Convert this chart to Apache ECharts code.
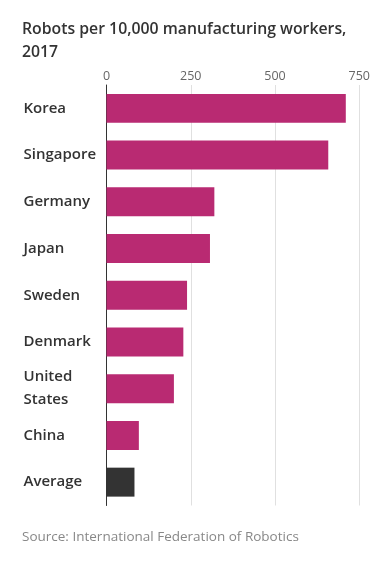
<!DOCTYPE html>
<html><head><meta charset="utf-8">
<script src="https://cdn.jsdelivr.net/npm/echarts@6/dist/echarts.min.js"></script>
<style>html,body{margin:0;padding:0;background:#fff}#c{width:373px;height:569px}</style>
</head><body><div id="c"></div>
<script>
const categories = ['Korea','Singapore','Germany','Japan','Sweden','Denmark','United\nStates','China','Average'];
const values = [710, 658, 320, 307, 239, 228, 200, 96, 83];
const tickValues = [0, 250, 500, 750];
const titleText = 'Robots per 10,000 manufacturing workers,\n2017';
const sourceText = 'Source: International Federation of Robotics';

const chart = echarts.init(document.getElementById('c'), null, {renderer:'canvas'});
const FONT = '"Open Sans", sans-serif';
chart.setOption({
  animation: false,
  backgroundColor: '#fff',
  title: [{
    text: titleText, left: 22, top: 18, padding: 0,
    textStyle: {fontFamily: FONT, fontSize: 15.8, fontWeight: 600, color: '#333', lineHeight: 23}
  }, {
    text: sourceText, left: 22, top: 530, padding: 0,
    textStyle: {fontFamily: FONT, fontSize: 13.5, fontWeight: 'normal', color: '#888'}
  }],
  grid: {left: 106.5, right: 12.7, top: 85, bottom: 63.5, containLabel: false},
  xAxis: {
    type: 'value', position: 'top', min: 0, max: 750, interval: 250,
    axisLine: {show: false}, axisTick: {show: false},
    splitLine: {lineStyle: {color: '#e0e0e0', width: 1}},
    axisLabel: {fontFamily: FONT, fontSize: 12.5, color: '#666', margin: 2,
      formatter: v => tickValues.includes(v) ? String(v) : ''}
  },
  yAxis: {
    type: 'category', inverse: true, data: categories,
    axisLine: {show: true, lineStyle: {color: '#333', width: 1}},
    axisTick: {show: false},
    axisLabel: {fontFamily: FONT, fontSize: 15, fontWeight: 600, color: '#333',
      align: 'left', margin: 83, lineHeight: 23}
  },
  series: [{
    type: 'bar', barCategoryGap: '38%',
    data: values.map((v, i) => ({
      value: v,
      itemStyle: {color: categories[i] === 'Average' ? '#333333' : '#B92A72'}
    }))
  }]
});
</script></body></html>
